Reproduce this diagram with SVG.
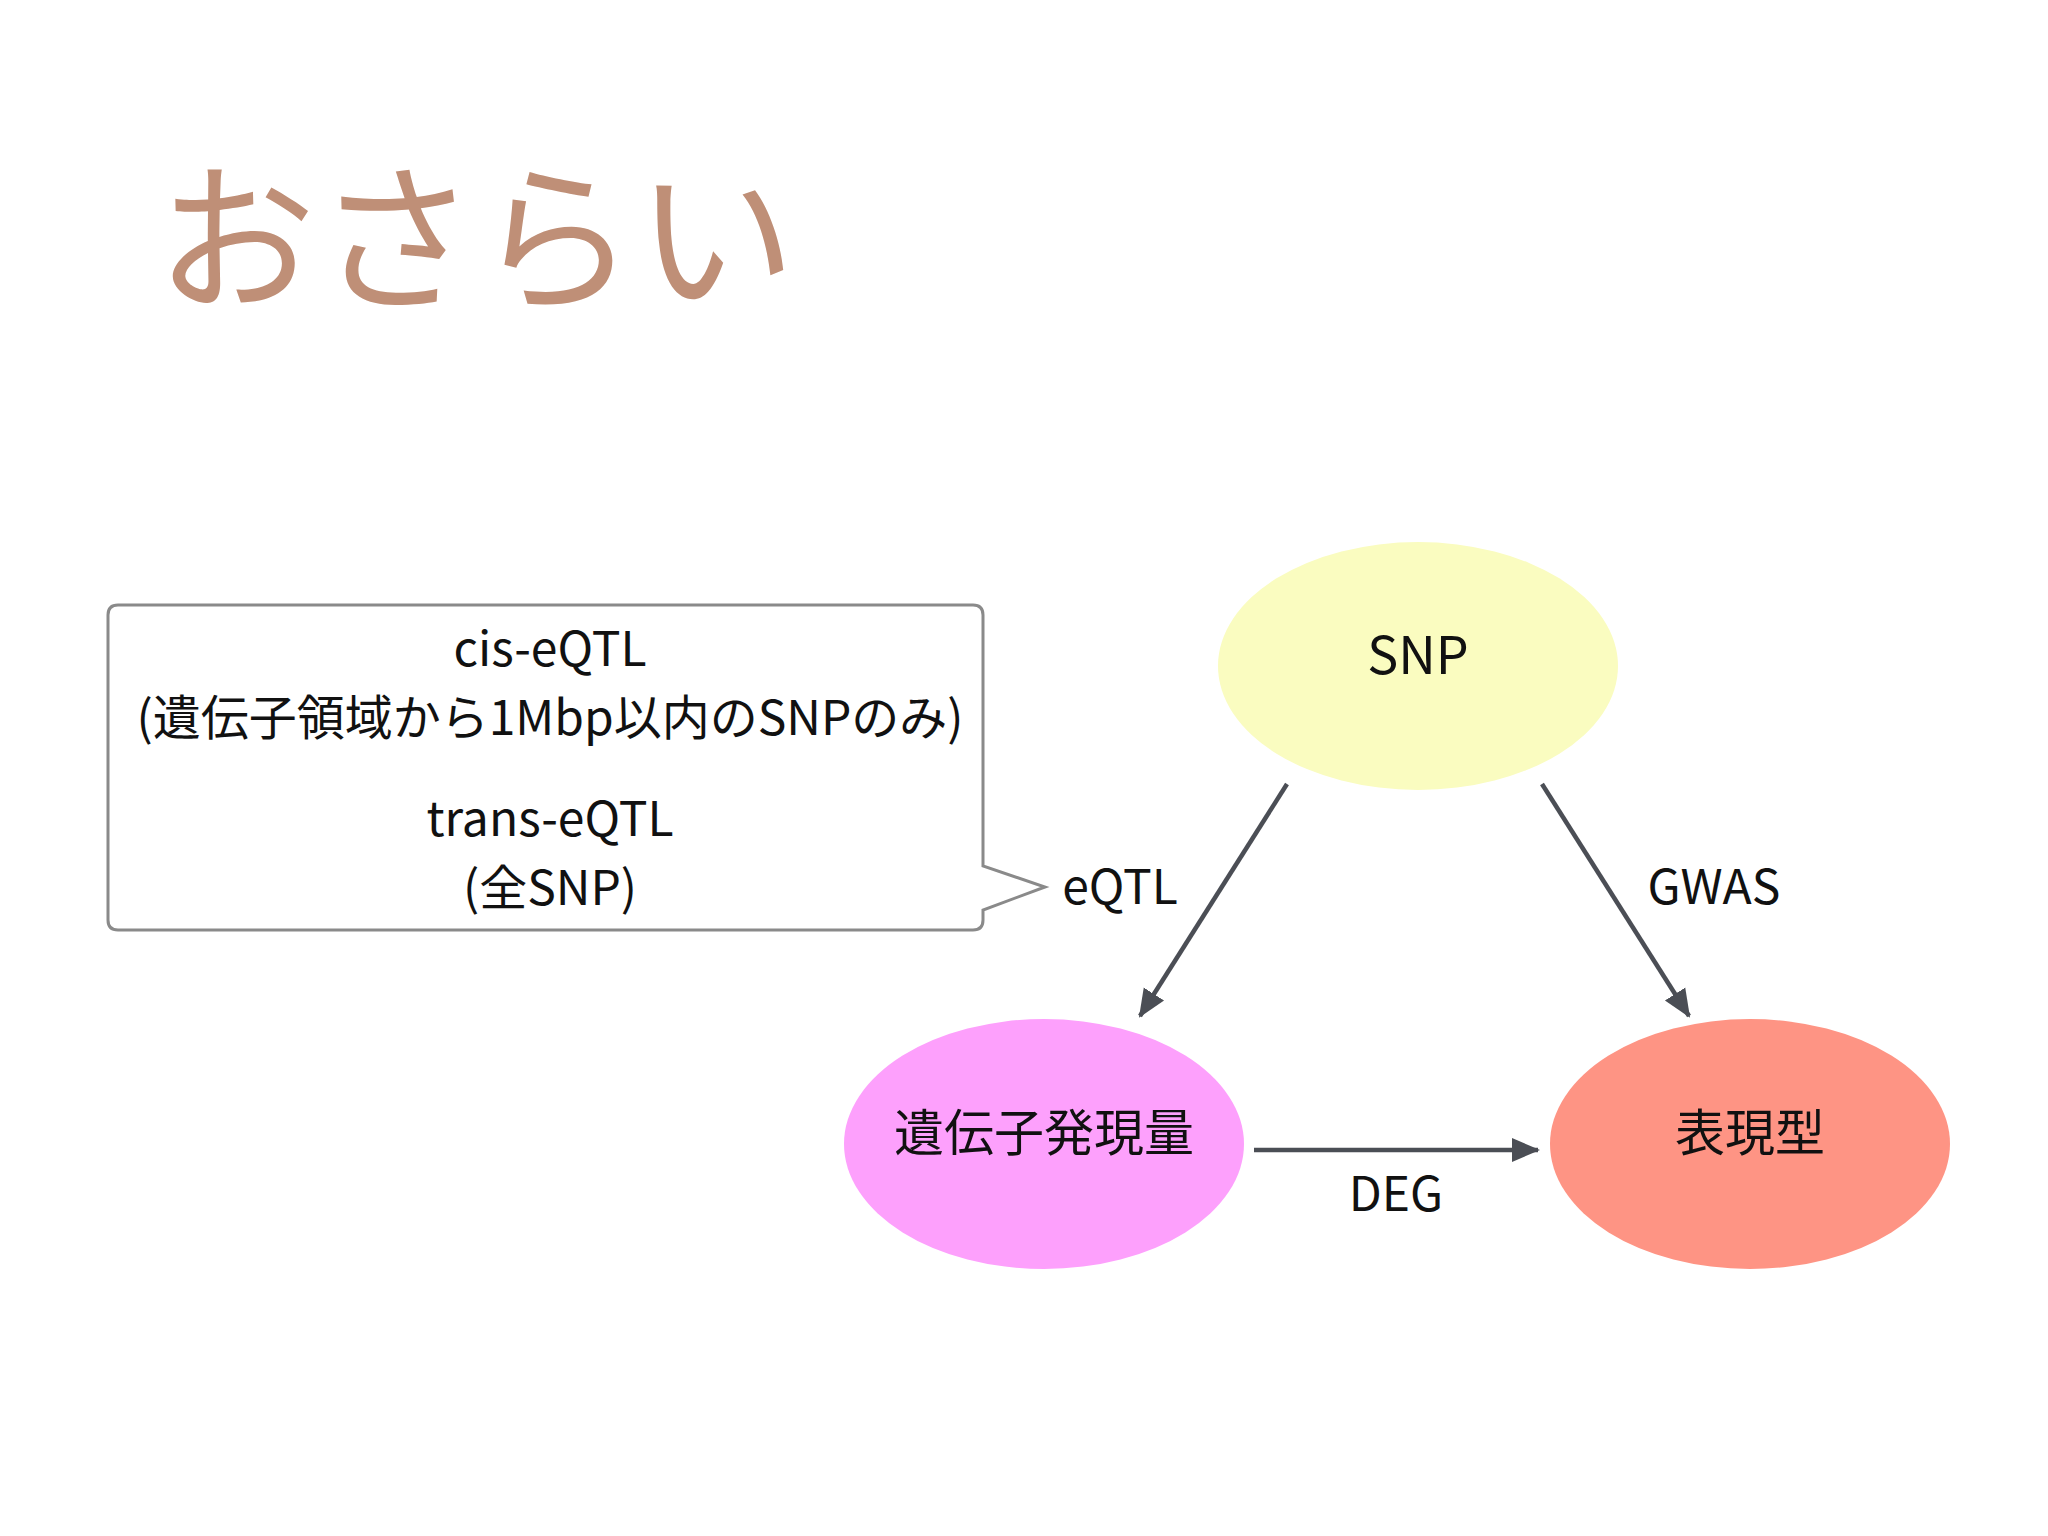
<svg xmlns="http://www.w3.org/2000/svg" width="2048" height="1536" viewBox="0 0 2048 1536">
<style>
.t{font-family:"Noto Sans CJK JP","Noto Sans",sans-serif;fill:#111;text-anchor:middle}
.lbl{font-size:48px}
.node{font-size:52px}
.jp{font-size:50px}
.conn{stroke:#4b4e55;stroke-width:4.5;fill:none}
</style>
<defs>
<marker id="ah" markerUnits="userSpaceOnUse" markerWidth="30" markerHeight="28" refX="26" refY="14" orient="auto" viewBox="0 0 30 28">
<path d="M0,2 L28,14 L0,26 Z" fill="#4b4e55"/>
</marker>
</defs>
<rect width="2048" height="1536" fill="#ffffff"/>
<text x="156" y="298" font-family="Noto Sans CJK JP, sans-serif" font-size="160" fill="#bf8f77">おさらい</text>
<g id="callout">
<path d="M118,605 H973 Q983,605 983,615 V866 L1045,887 L983,910 V920 Q983,930 973,930 H118 Q108,930 108,920 V615 Q108,605 118,605 Z" fill="#fff" stroke="#8a8a8a" stroke-width="3"/>
<text class="t lbl" x="550" y="666">cis-eQTL</text>
<text class="t lbl" x="550" y="735">(遺伝子領域から1Mbp以内のSNPのみ)</text>
<text class="t lbl" x="550" y="836">trans-eQTL</text>
<text class="t lbl" x="550" y="905">(全SNP)</text>
</g>
<g id="node-snp">
<ellipse cx="1418" cy="666" rx="200" ry="124" fill="#fafcc0"/>
<text class="t node" x="1418" y="674">SNP</text>
</g>
<g id="node-expr">
<ellipse cx="1044" cy="1144" rx="200" ry="125" fill="#fda0fc"/>
<text class="t jp" x="1044" y="1151">遺伝子発現量</text>
</g>
<g id="node-pheno">
<ellipse cx="1750" cy="1144" rx="200" ry="125" fill="#fe9484"/>
<text class="t jp" x="1750" y="1151">表現型</text>
</g>
<g id="connectors">
<line class="conn" x1="1287" y1="784" x2="1140" y2="1016" marker-end="url(#ah)"/>
<line class="conn" x1="1542" y1="784" x2="1689" y2="1016" marker-end="url(#ah)"/>
<line class="conn" x1="1254" y1="1150" x2="1538" y2="1150" stroke-width="5.5" marker-end="url(#ah)"/>
<text class="t lbl" x="1120" y="904">eQTL</text>
<text class="t lbl" x="1714" y="904">GWAS</text>
<text class="t lbl" x="1396" y="1211">DEG</text>
</g>
</svg>
